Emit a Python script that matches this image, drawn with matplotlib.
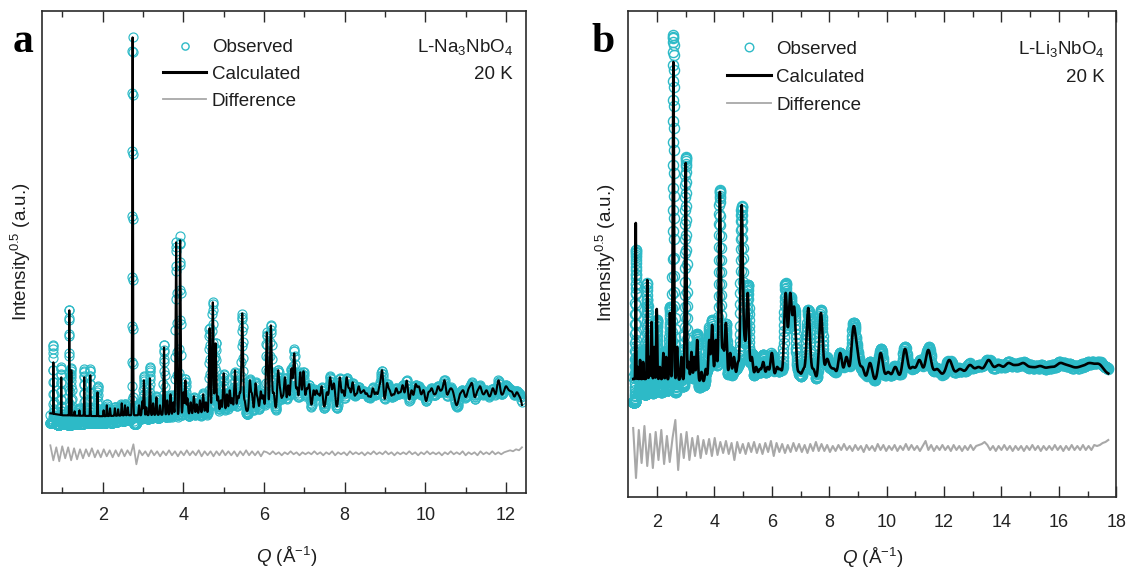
import numpy as np
import matplotlib
matplotlib.use("Agg")
import matplotlib.pyplot as plt
from matplotlib.lines import Line2D

plt.rcParams['font.family'] = ['Liberation Sans', 'DejaVu Sans']
plt.rcParams['mathtext.fontset'] = 'custom'
plt.rcParams['mathtext.rm'] = 'Liberation Sans'
plt.rcParams['mathtext.it'] = 'Liberation Sans:italic'
plt.rcParams['mathtext.bf'] = 'Liberation Sans:bold'

# ===================== DATA (y in plot units) =====================
# ---- Panel a : L-Na3NbO4, 20 K ----
a_q_range = (0.70, 12.40)
a_calc_bg = [(0.70, 80), (1.0, 78), (2.0, 77), (2.6, 78), (3.0, 78), (4.0, 79), (5.0, 81),
             (6.0, 83), (7.0, 85), (8.0, 85), (9.0, 85), (10.0, 85), (11.0, 86), (12.0, 86), (12.40, 80)]
a_obs_bg = [(0.70, 74), (1.0, 72), (2.0, 72), (2.6, 74), (3.0, 76), (4.0, 77), (5.0, 79),
            (6.0, 81), (7.0, 83), (8.0, 83), (9.0, 83), (10.0, 83), (11.0, 84), (12.0, 84), (12.40, 79)]
# (Q, calculated top, observed top)
a_peaks = [(0.775, 131, 146), (0.97, 116, 123), (1.17, 183, 188), (1.22, 123, 123), (1.54, 116, 122),
           (1.69, 118, 122), (1.87, 101, 106), (2.10, 88, 88), (2.30, 85, 85), (2.47, 90, 90),
           (2.74, 456, 452), (3.02, 113, 116), (3.17, 115, 125), (3.52, 146, 150), (3.82, 251, 253),
           (3.92, 253, 256), (4.05, 113, 113), (4.65, 165, 165), (4.73, 191, 193), (4.80, 150, 150),
           (5.00, 120, 120), (5.28, 123, 123), (5.46, 180, 180), (5.65, 113, 113), (5.79, 110, 110),
           (6.07, 161, 161), (6.17, 168, 168), (6.35, 123, 123), (6.52, 116, 116), (6.68, 125, 125),
           (6.75, 140, 144), (6.90, 121, 121), (6.98, 122, 122), (7.23, 103, 103), (7.64, 116, 116),
           (7.88, 116, 116), (8.05, 116, 116), (8.20, 111, 111), (8.55, 100, 100), (8.93, 123, 123),
           (9.05, 110, 110), (9.54, 110, 110), (9.76, 109, 109), (9.96, 103, 103), (10.48, 113, 113),
           (10.70, 100, 100), (11.16, 110, 110), (11.82, 113, 113), (12.27, 101, 101)]
# small reflections (Q, top)
a_minor = [(1.30, 82), (1.42, 83), (2.02, 83), (2.18, 85), (2.38, 84), (2.55, 88), (2.62, 86),
           (2.90, 88), (2.98, 92), (3.08, 86), (3.25, 90), (3.33, 96), (3.42, 88), (3.60, 93), (3.68, 99),
           (3.75, 91), (4.00, 101), (4.10, 95), (4.18, 91), (4.26, 97), (4.33, 89), (4.41, 93), (4.49, 99),
           (4.56, 91), (4.86, 97), (4.93, 93), (5.08, 99), (5.15, 103), (5.21, 95), (5.35, 97), (5.40, 101),
           (5.52, 93), (5.70, 100), (5.84, 96), (5.92, 102), (5.98, 98), (6.24, 101), (6.40, 105),
           (6.46, 97), (6.60, 108), (6.82, 106), (7.06, 105), (7.12, 109), (7.30, 103), (7.36, 99),
           (7.43, 107), (7.56, 101), (7.70, 105), (7.74, 109), (7.96, 103), (8.12, 105), (8.28, 99),
           (8.35, 107), (8.42, 101), (8.48, 103), (8.62, 97), (8.70, 105), (8.78, 101), (8.86, 107),
           (9.12, 103), (9.20, 99), (9.28, 105), (9.36, 101), (9.44, 107), (9.50, 97), (9.66, 103),
           (9.84, 107), (9.90, 99), (10.08, 101), (10.16, 105), (10.24, 99), (10.32, 107), (10.40, 103),
           (10.58, 101), (10.64, 105), (10.86, 99), (10.94, 103), (11.02, 97), (11.08, 105), (11.28, 101),
           (11.36, 107), (11.44, 99), (11.52, 103), (11.60, 97), (11.68, 105), (11.76, 101), (11.92, 99),
           (12.00, 107), (12.08, 103), (12.16, 101), (12.36, 95)]
a_diff = [8, -7, 6, -8, 7, -5, 6, -7, 5, -6, 4, -5,
          4, -3, 5, -4, 3, -4, 4, -3, 3, -4, 3, -3, 4, -3, 3, -2,
          9, -11,
          3, -2, 2, -3, 3, -2, 2, -3, 2, -2, 3, -2, 2, -3, 2, -2, 3, -2, 2, -2,
          3, -3, 2, -2, 2, -3, 2, -2, 3, -2, 2, -2, 2, -3, 2, -2, 3, -2, 2, -2, 2, -3, 2,
          1, -1, 2, -1, 1, -2, 1, -1, 2, -1, 1, -2, 1, -1, 1, -1, 2, -1, 1, -2,
          1, -1, 2, -2, 1, -1, 1, -2, 2, -1, 1, -1, 1, -2, 1, -1, 2, -1, 1, -1,
          2, -1, 1, -2, 1, -1, 1, -1, 2, -1, 1, -2, 1, -1, 2, -1, 1, -1, 1, -2,
          1, -1, 2, -1, 1, -1, 2, -2, 1, -1, 1, -2, 2, -1, 1, -1, 2, -1, 1, -1,
          1, 2, 3, 2, 4, 3, 6]

# ---- Panel b : L-Li3NbO4, 20 K ----
b_q_range = (1.17, 17.72)
b_calc_bg = [(1.17, 118), (2.0, 118), (3.0, 117), (3.6, 115), (4.0, 120), (5.0, 118), (6.0, 118),
             (7.0, 115), (8.0, 116), (9.0, 115), (10.0, 116), (11.0, 119), (12.0, 122), (13.0, 124),
             (14.0, 126), (15.0, 127), (16.0, 127), (17.0, 128), (17.72, 123)]
b_obs_bg = [(1.17, 110), (1.5, 112), (2.0, 113), (3.0, 115), (3.6, 114), (4.0, 119), (5.0, 118),
            (6.0, 118), (7.0, 115), (8.0, 116), (9.0, 115), (10.0, 116), (11.0, 119), (12.0, 122),
            (13.0, 124), (14.0, 126), (15.0, 127), (16.0, 127), (17.0, 128), (17.72, 124)]
b_peaks = [(1.26, 274, 262), (1.41, 137, 137), (1.66, 217, 207), (1.81, 175, 172), (1.99, 188, 183),
           (2.22, 144, 144), (2.45, 184, 185), (2.57, 435, 448), (3.00, 334, 332), (3.20, 145, 145),
           (3.40, 157, 157), (3.82, 157, 167), (3.92, 172, 172), (4.05, 157, 157), (4.19, 305, 304),
           (4.40, 174, 170), (4.55, 144, 144), (4.95, 292, 289), (5.16, 204, 210), (5.30, 140, 140),
           (5.70, 135, 140), (5.85, 130, 132), (6.00, 144, 146), (6.48, 204, 212), (6.64, 204, 200),
           (6.78, 190, 190), (7.27, 189, 185), (7.71, 184, 185), (7.92, 138, 138), (8.38, 144, 145),
           (8.84, 170, 172), (8.97, 150, 150), (9.42, 134, 134), (9.79, 144, 147), (10.64, 148, 148),
           (11.14, 137, 137), (11.45, 147, 149), (12.18, 137, 137), (12.90, 132, 132), (13.55, 137, 137),
           (14.24, 134, 134), (14.76, 134, 134), (15.35, 131, 131), (16.04, 134, 134), (16.50, 130, 130),
           (17.09, 134, 134)]
b_minor = [(1.33, 130), (1.52, 135), (1.74, 140), (1.90, 150), (2.10, 130), (2.32, 140), (2.70, 150),
           (2.85, 140), (3.10, 135), (3.30, 140), (3.55, 125), (3.70, 128), (4.30, 150), (4.68, 140),
           (4.82, 135), (5.05, 160), (5.45, 130), (5.58, 128), (6.18, 130), (6.30, 128), (6.95, 125),
           (7.10, 128), (7.45, 128), (8.05, 130), (8.18, 128), (8.60, 140), (9.15, 130), (10.05, 125),
           (10.30, 130), (10.90, 130), (11.75, 128), (12.55, 128), (13.20, 130), (13.90, 132),
           (14.50, 132), (15.05, 130), (15.70, 130), (16.30, 132), (16.80, 131), (17.40, 133)]
b_diff = [20, -30, 18, -15, 22, -18, 14, -20, 16, -12, 18, -16, 12, -14, 10, 28,
          -22,
          14, -10, 16, -12, 10, -8, 12, -10, 8, -6, 9, -8, 10, -7,
          6, -5, 7, -6, 5, -12, 6, -5, 4, -6, 5, -4, 6, -5, 4, -6, 5, -4, 7, -8, 5, -4,
          4, -5, 3, -4, 5, -3, 4, -4, 3, -5, 4, -3, 6, -3, 4, -3, 3, -4,
          2, -3, 3, -2, 4, -2, 2, -3, 3, -2, 2, -4, 3, -2, 2, -3, 4, -2, 3, -3,
          2, -2, 3, -3, 2, -2, 4, -2, 3, -2, 2, -3, 2, 7, -2, 3, -3, 2, -2, 3,
          -2, 2, -3, 3, -2, 2, -3, 2, -2, 3, -2, 2, 3, 4, 6, 3, -2, 2, -3, 2,
          -2, 3, -2, 2, -3, 2, -2, 2, -3, 2, -2, 3, -2, 2, -3, 2, -2, 2, -2, 3,
          -2, 2, -3, 2, -2, 3, -2, 2, -2, 3, -2, 2, -2, 3,
          2, 3, 5, 6, 8]

# ===================== STYLE / LAYOUT =====================
W, H = 1131, 571
CYAN = '#2dbac7'
GRAY = '#a8a8a8'
DARK = '#2a2a2a'


def fx(x):
    return x / W


def fy(y):
    return 1 - y / H


def bg_curve(q, knots):
    return np.interp(q, [k[0] for k in knots], [k[1] for k in knots])


def solve_heights(centers, tops, bgk, rel):
    c = np.asarray(centers, float)
    t = np.asarray(tops, float)
    s = rel * c
    A = np.exp(-0.5 * ((c[:, None] - c[None, :]) / s[None, :]) ** 2)
    h = np.linalg.solve(A, t - bg_curve(c, bgk))
    return np.clip(h, 0, None)


def profile(q, centers, heights, rel, bgk):
    c = np.asarray(centers, float)
    s = rel * c
    y = bg_curve(q, bgk).astype(float)
    for ci, hi, si in zip(c, heights, s):
        y += hi * np.exp(-0.5 * ((q - ci) / si) ** 2)
    return y


def build(peaks, minor, calc_bg, obs_bg, qrange, rel, obs_step, line_step, diff):
    centers = [p[0] for p in peaks] + [m[0] for m in minor]
    ctops = [p[1] for p in peaks] + [m[1] for m in minor]
    otops = [p[2] for p in peaks] + [m[1] for m in minor]
    hc = solve_heights(centers, ctops, calc_bg, rel)
    ho = solve_heights(centers, otops, obs_bg, rel)
    n_obs = int(np.log(qrange[1] / qrange[0]) / obs_step)
    n_line = int(np.log(qrange[1] / qrange[0]) / line_step)
    q_obs = np.geomspace(qrange[0], qrange[1], n_obs)
    q_line = np.geomspace(qrange[0], qrange[1], n_line)
    qd = np.linspace(qrange[0], qrange[1], len(diff))
    idx = np.clip(np.searchsorted(qd, q_obs), 0, len(diff) - 1)
    dev = np.asarray(diff, float)[idx] * 0.5
    obs = profile(q_obs, centers, ho, rel, obs_bg) + dev
    return q_obs, obs, q_line, profile(q_line, centers, hc, rel, calc_bg), qd


fig = plt.figure(figsize=(W / 100, H / 100), dpi=100)

panels = [
    dict(box=(42.3, 11, 526, 493.3), xlim=(0.5, 12.5), ylim=(0, 482.3),
         peaks=a_peaks, minor=a_minor, cbg=a_calc_bg, obg=a_obs_bg, qr=a_q_range,
         rel=0.0035, ostep=0.001, lstep=0.0003, diff=a_diff, doff=40,
         ms=6.5, mew=0.85, clw=1.5, dlw=1.3, pad=10,
         major=list(range(2, 13, 2)), minor_t=list(range(1, 13, 2))),
    dict(box=(628.3, 11, 1116.3, 497), xlim=(1, 18), ylim=(0, 486),
         peaks=b_peaks, minor=b_minor, cbg=b_calc_bg, obg=b_obs_bg, qr=b_q_range,
         rel=0.008, ostep=0.0009, lstep=0.0004, diff=b_diff, doff=49,
         ms=7.3, mew=1.0, clw=1.9, dlw=1.5, pad=12,
         major=list(range(2, 19, 2)), minor_t=list(range(3, 18, 2))),
]

for P in panels:
    x0, y0, x1, y1 = P['box']
    ax = fig.add_axes([fx(x0), fy(y1), (x1 - x0) / W, (y1 - y0) / H])
    q_obs, obs, q_line, calc, qd = build(P['peaks'], P['minor'], P['cbg'], P['obg'], P['qr'],
                                         P['rel'], P['ostep'], P['lstep'], P['diff'])
    ax.plot(q_obs, obs, 'o', mfc='none', mec=CYAN, ms=P['ms'], mew=P['mew'], zorder=1)
    ax.plot(q_line, calc, color='black', lw=P['clw'], zorder=2)
    ax.plot(qd, P['doff'] + np.asarray(P['diff'], float), color=GRAY, lw=P['dlw'], zorder=3)
    ax.set_xlim(*P['xlim'])
    ax.set_ylim(*P['ylim'])
    ax.set_xticks(P['major'])
    ax.set_xticks(P['minor_t'], minor=True)
    ax.set_yticks([])
    ax.tick_params(which='both', direction='in', top=True, bottom=True, color=DARK, width=1.0)
    ax.tick_params(which='major', length=8, labelsize=13, labelcolor='#222222', pad=P['pad'])
    ax.tick_params(which='minor', length=4)
    for sp in ax.spines.values():
        sp.set_color(DARK)
        sp.set_linewidth(1.2)

TXT = dict(color='#1e1e1e', fontsize=13.5)

# panel letters
fig.text(fx(13), fy(52), 'a', fontfamily='Liberation Serif', fontweight='bold', fontsize=30,
         ha='left', va='baseline', color='black')
fig.text(fx(591), fy(52), 'b', fontfamily='Liberation Serif', fontweight='bold', fontsize=30,
         ha='left', va='baseline', color='black')

# axis labels
ylab = 'Intensity$^{0.5}$ (a.u.)'
xlab = '$Q$ (Å$^{-1}$)'
fig.text(fx(21.4), fy(252), ylab, rotation=90, ha='center', va='center', **TXT)
fig.text(fx(605.5), fy(253), ylab, rotation=90, ha='center', va='center', **TXT)
fig.text(fx(287), fy(557), xlab, ha='center', va='center', **TXT)
fig.text(fx(873), fy(558), xlab, ha='center', va='center', **TXT)

# legends (drawn by hand to match the reference placement)
legend_rows = [
    dict(mx=184.6, lx=(163, 206), tx=211.8, rows=(45.5, 72, 98.9), ms=5.2, ann_x=513,
         ann='L-Na$_3$NbO$_4$'),
    dict(mx=748.7, lx=(726.5, 770.6), tx=776, rows=(47.4, 75.4, 102.7), ms=6.2, ann_x=1104.6,
         ann='L-Li$_3$NbO$_4$'),
]
for L in legend_rows:
    r0, r1, r2 = L['rows']
    fig.add_artist(Line2D([fx(L['mx'])], [fy(r0)], marker='o', ms=L['ms'], mfc='none',
                          mec=CYAN, mew=1.0, transform=fig.transFigure))
    fig.add_artist(Line2D([fx(L['lx'][0]), fx(L['lx'][1])], [fy(r1), fy(r1)], color='black',
                          lw=2.2, transform=fig.transFigure))
    fig.add_artist(Line2D([fx(L['lx'][0]), fx(L['lx'][1])], [fy(r2), fy(r2)], color=GRAY,
                          lw=1.3, transform=fig.transFigure))
    for r, s in zip((r0, r1, r2), ('Observed', 'Calculated', 'Difference')):
        fig.text(fx(L['tx']), fy(r + 6.8), s, ha='left', va='baseline', **TXT)
    fig.text(fx(L['ann_x']), fy(r0 + 6.8), L['ann'], ha='right', va='baseline', **TXT)
    fig.text(fx(L['ann_x']), fy(r1 + 6.8), '20 K', ha='right', va='baseline', **TXT)

fig.savefig('out.png', dpi=100)
